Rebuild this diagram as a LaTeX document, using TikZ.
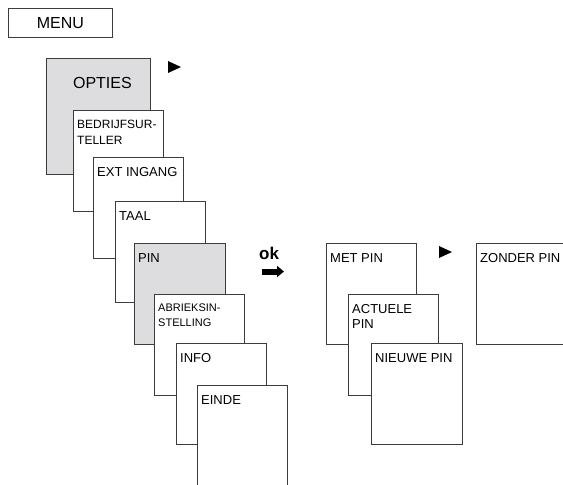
\documentclass[tikz,border=0pt]{standalone}
\usepackage{fontspec}
\setmainfont{Liberation Sans}
\usetikzlibrary{arrows.meta, positioning}

\definecolor{boxline}{RGB}{60,60,60}
\definecolor{boxgray}{RGB}{221,221,223}

\begin{document}
\begin{tikzpicture}[x=1pt, y=-1pt,
    scr/.style = {draw=boxline, line width=0.8pt, fill=white, anchor=north west,
                  minimum width=90pt, minimum height=101pt, inner sep=0pt},
    sel/.style = {scr, fill=boxgray},
    txt/.style = {anchor=north west, inner sep=0pt, xshift=4pt, yshift=-10pt,
                  align=left, font=\fontsize{13}{15}\selectfont},
    small/.style = {txt, font=\fontsize{12}{16}\selectfont}]
                    \useasboundingbox (0,0) rectangle (563,485);
                    \clip (0,0) rectangle (563,485);

                    \node (menu) [draw=boxline, line width=0.8pt, anchor=north west, minimum width=104pt,
                        minimum height=29pt, inner sep=0pt, font=\fontsize{16}{18}\selectfont] at (8,8) {MENU};

                    \node (opties) [sel, minimum width=104pt, minimum height=116pt,
                        label={[txt, anchor=north, xshift=0pt, yshift=-9pt, font=\fontsize{16}{18}\selectfont]north:OPTIES}] at (46,58) {};
                    \node (bedrijf) [scr, label={[small]north west:BEDRIJFSUR-\\TELLER}] at (73,110) {};
                    \node (ext) [scr, label={[txt]north west:EXT INGANG}] at (93,157) {};
                    \node (taal) [scr, label={[txt]north west:TAAL}] at (115,201) {};
                    \node (pin) [sel, minimum width=91pt, label={[txt]north west:PIN}] at (134,243) {};
                    \node (abriek) [scr, label={[small, font=\fontsize{11}{15}\selectfont]north west:ABRIEKSIN-\\STELLING}] at (154,294) {};
                    \node (info) [scr, label={[txt]north west:INFO}] at (176,343) {};
                    \node (einde) [scr, minimum height=112pt, label={[txt]north west:EINDE}] at (197,385) {};

                    \node (metpin) [scr, label={[txt]north west:MET PIN}] at (326,243) {};
                    \node (actuele) [scr, label={[txt]north west:ACTUELE\\PIN}] at (348,294) {};
                    \node (nieuwe) [scr, minimum width=91pt, label={[txt]north west:NIEUWE PIN}] at (371,343) {};
                    \node (zonder) [scr, minimum width=100pt, label={[txt]north west:ZONDER PIN}] at (476,243) {};

                    \node (ok) [anchor=south west, inner sep=0pt, font=\bfseries\fontsize{17}{18}\selectfont] at (259,260) {ok};
                    \coordinate (okl) at (262,271.5);
                    \coordinate (okr) at (284,271.5);
                    \draw [line width=6pt, -{Triangle[width=11pt, length=7pt]}] (okl) -- (okr);

                    \fill (168,61) -- (181,67) -- (168,73) -- cycle;
                    \fill (439,246) -- (452,252) -- (439,258) -- cycle;
                \end{tikzpicture}
\end{document}
